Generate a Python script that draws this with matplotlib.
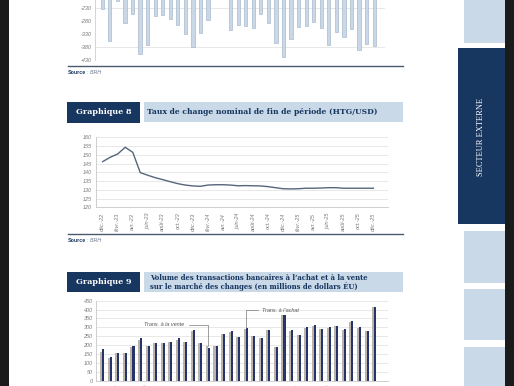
import matplotlib
matplotlib.use("Agg")
import matplotlib.pyplot as plt
from matplotlib.patches import Rectangle
from matplotlib.lines import Line2D

# ---------------- data ----------------
# Graphique 7 (partially visible, negative balances)
chart7_values = [-234, -357, -203, -287, -253, -407, -372, -261, -257, -272, -294, -330,
                 -379, -327, -276, -150, -120, -313, -294, -299, -308, -253, -289, -366,
                 -418, -349, -304, -299, -285, -308, -371, -323, -340, -311, -392, -367, -375]
chart7_yticks = [-230, -280, -330, -380, -430]

# Graphique 8 : taux de change HTG/USD (mensuel, déc.-22 à déc.-25)
months = ['déc.-22', 'janv.-23', 'févr.-23', 'mars-23', 'avr.-23', 'mai-23', 'juin-23',
          'juil.-23', 'août-23', 'sept.-23', 'oct.-23', 'nov.-23', 'déc.-23', 'janv.-24',
          'févr.-24', 'mars-24', 'avr.-24', 'mai-24', 'juin-24', 'juil.-24', 'août-24',
          'sept.-24', 'oct.-24', 'nov.-24', 'déc.-24', 'janv.-25', 'févr.-25', 'mars-25',
          'avr.-25', 'mai-25', 'juin-25', 'juil.-25', 'août-25', 'sept.-25', 'oct.-25',
          'nov.-25', 'déc.-25']
rate8 = [146.1, 148.6, 150.5, 154.3, 151.4, 139.8, 138.3, 136.9, 135.8, 134.6, 133.5, 132.7,
         132.2, 132.0, 132.7, 132.9, 132.9, 132.7, 132.3, 132.4, 132.3, 132.2, 131.8, 131.2,
         130.6, 130.5, 130.6, 130.9, 130.9, 131.0, 131.2, 131.2, 130.9, 130.9, 130.9, 130.9,
         130.9]
chart8_yticks = [120, 125, 130, 135, 140, 145, 150, 155, 160]

# Graphique 9 : volume des transactions (millions USD)
vente9 = [164, 130, 155, 155, 189, 229, 193, 214, 212, 216, 231, 217, 282, 210, 193, 193,
          261, 276, 246, 293, 250, 238, 283, 187, 370, 282, 259, 297, 310, 291, 298, 306,
          287, 332, 298, 279, 412]
achat9 = [180, 136, 157, 157, 197, 238, 195, 214, 213, 218, 242, 219, 285, 211, 185, 194,
          263, 279, 247, 294, 251, 240, 283, 189, 371, 283, 258, 300, 313, 293, 300, 309,
          289, 337, 300, 278, 416]
chart9_yticks = [0, 50, 100, 150, 200, 250, 300, 350, 400, 450]

# ---------------- layout helpers ----------------
W, H = 514, 386
fig = plt.figure(figsize=(5.14, 3.86), dpi=100)
fig.patch.set_facecolor('white')

NAVY = '#173660'
LIGHT = '#c9d9e8'
BLACK = '#1b1b1b'
TICKC = '#7a7a7a'
GRID = '#e4e4e4'


def fx(x):
    return x / W


def fy(y):
    return 1 - y / H


def rect(x0, y0, x1, y1, color, z=0):
    fig.add_artist(Rectangle((fx(x0), fy(y1)), fx(x1) - fx(x0), fy(y0) - fy(y1),
                             transform=fig.transFigure, facecolor=color,
                             edgecolor='none', zorder=z))


def hline(x0, x1, y, color, lw):
    fig.add_artist(Line2D([fx(x0), fx(x1)], [fy(y), fy(y)], transform=fig.transFigure,
                          color=color, lw=lw))


renderer = fig.canvas.get_renderer()


def fit_text(x, y, s, target_w, size, **kw):
    t = fig.text(fx(x), fy(y), s, fontsize=size, **kw)
    w = t.get_window_extent(renderer).width
    t.set_fontsize(size * target_w / w)
    return t


def source(y):
    t = fig.text(fx(68), fy(y), 'Source', fontsize=3.8, color=NAVY, weight='bold',
                 family='Liberation Sans', va='center')
    w = t.get_window_extent(renderer).width
    fig.text(fx(68 + w + 0.5), fy(y), ': BRH', fontsize=3.8, color='#6b7b90',
             style='italic', family='Liberation Sans', va='center')


TICKFONT = dict(family='Liberation Sans', style='italic')

# ---------------- page decorations ----------------
rect(0, 0, 9, 386, BLACK)
rect(505, 0, 514, 386, BLACK)
rect(464, 0, 505, 43, LIGHT)
rect(458, 48, 505, 224, NAVY)
rect(464, 231, 505, 283, LIGHT)
rect(464, 289, 505, 340, LIGHT)
rect(464, 347, 505, 386, LIGHT)
fig.text(fx(481), fy(137), 'SECTEUR EXTERNE', rotation=90, color='white',
         family='Liberation Serif', fontsize=6.0, ha='center', va='center')

# ---------------- Graphique 7 (partial) ----------------
ax7 = fig.add_axes([fx(95), fy(60), fx(385) - fx(95), 430 * 0.26 / H])
ax7.set_facecolor('none')
x7 = list(range(len(chart7_values)))
for g in [-80, -230, -380]:
    ax7.axhline(g, color=GRID, lw=0.6, zorder=0)
ax7.bar(x7, chart7_values, width=0.42, color='#c9d7e6', edgecolor='#9aaec4', linewidth=0.4,
        zorder=2)
ax7.set_ylim(-430, 0)
ax7.set_xlim(-0.97, 37.44)
ax7.set_yticks(chart7_yticks)
ax7.set_yticklabels([str(v) for v in chart7_yticks], fontsize=4, color=TICKC, **TICKFONT)
ax7.set_xticks([])
ax7.tick_params(axis='y', length=0, pad=2.5)
for s in ['top', 'right', 'bottom']:
    ax7.spines[s].set_visible(False)
ax7.spines['left'].set_color('#cfcfcf')
ax7.spines['left'].set_linewidth(0.6)

hline(68, 403, 66, '#4a5a6c', 1.0)
source(72)

# ---------------- Graphique 8 ----------------
rect(67, 102, 140, 123, NAVY)
rect(144, 102, 403, 122, LIGHT)
fit_text(103.5, 112.5, 'Graphique 8', 56, 7, color='white', weight='bold',
         family='DejaVu Serif', ha='center', va='center')
fit_text(147, 112, 'Taux de change nominal de fin de période (HTG/USD)', 230, 7,
         color=NAVY, weight='bold', family='DejaVu Serif', ha='left', va='center')

ax8 = fig.add_axes([fx(95.7), fy(207.3), fx(388) - fx(95.7), 70 / H])
ax8.set_facecolor('none')
x8 = list(range(len(rate8)))
ax8.plot(x8, rate8, color='#56657a', lw=1.0, zorder=3)
ax8.set_ylim(120, 160)
ax8.set_xlim(-0.93, 37.94)
ax8.set_yticks(chart8_yticks)
ax8.set_yticklabels([str(v) for v in chart8_yticks], fontsize=4, color=TICKC, **TICKFONT)
ax8.grid(axis='y', color=GRID, lw=0.6)
ax8.set_axisbelow(True)
ax8.set_xticks(x8[::2])
ax8.set_xticklabels(months[::2], rotation=90, fontsize=4, color=TICKC, **TICKFONT)
ax8.tick_params(axis='y', length=0, pad=2.5)
ax8.tick_params(axis='x', length=0, pad=4)
for s in ['top', 'right']:
    ax8.spines[s].set_visible(False)
for s in ['left', 'bottom']:
    ax8.spines[s].set_color('#c8c8c8')
    ax8.spines[s].set_linewidth(0.6)

hline(68, 403, 234, '#4a5a6c', 1.0)
source(240.5)

# ---------------- Graphique 9 ----------------
rect(67, 272, 140, 292, NAVY)
rect(144, 272, 403, 292, LIGHT)
fit_text(103.5, 282, 'Graphique 9', 56, 7, color='white', weight='bold',
         family='DejaVu Serif', ha='center', va='center')
fit_text(150, 278.3, "Volume des transactions bancaires à l’achat et à la vente", 218, 6.5,
         color=NAVY, weight='bold', family='DejaVu Serif', ha='left', va='center')
fit_text(150, 286.3, "sur le marché des changes (en millions de dollars ÉU)", 208, 6.5,
         color=NAVY, weight='bold', family='DejaVu Serif', ha='left', va='center')

ax9 = fig.add_axes([fx(96), fy(380.7), fx(388) - fx(96), 80 / H])
ax9.set_facecolor('none')
x9 = list(range(len(vente9)))
bw = 0.27
ax9.bar([i - bw / 2 for i in x9], vente9, width=bw, color='#b9b5a8', zorder=2)
ax9.bar([i + bw / 2 for i in x9], achat9, width=bw, color='#27336b', zorder=2)
ax9.set_ylim(0, 450)
ax9.set_xlim(-0.83, 37.84)
ax9.set_yticks(chart9_yticks)
ax9.set_yticklabels([str(v) for v in chart9_yticks], fontsize=4, color=TICKC, **TICKFONT)
ax9.grid(axis='y', color=GRID, lw=0.6)
ax9.set_axisbelow(True)
ax9.set_xticks(x9[::2])
ax9.set_xticklabels(months[::2], rotation=90, fontsize=4, color=TICKC, **TICKFONT)
ax9.tick_params(axis='y', length=0, pad=2.5)
ax9.tick_params(axis='x', length=0, pad=2.5)
for s in ['top', 'right']:
    ax9.spines[s].set_visible(False)
for s in ['left', 'bottom']:
    ax9.spines[s].set_color('#c8c8c8')
    ax9.spines[s].set_linewidth(0.6)

# annotations (leader lines)
ax9.annotate('Trans. à la vente', xy=(14, vente9[14] + 5), xytext=(10.9, 315),
             fontsize=4, color='#555555', family='Liberation Sans', style='italic',
             ha='right', va='center',
             arrowprops=dict(arrowstyle='-', color='#777777', lw=0.5,
                             connectionstyle='angle,angleA=0,angleB=90,rad=0',
                             shrinkA=1, shrinkB=0))
ax9.annotate("Trans. à l’achat", xy=(19.1, achat9[19] + 5), xytext=(21.2, 397),
             fontsize=4, color='#555555', family='Liberation Sans', style='italic',
             ha='left', va='center',
             arrowprops=dict(arrowstyle='-', color='#777777', lw=0.5,
                             connectionstyle='angle,angleA=0,angleB=90,rad=0',
                             shrinkA=1, shrinkB=0))

fig.savefig('out.png', dpi=100)
